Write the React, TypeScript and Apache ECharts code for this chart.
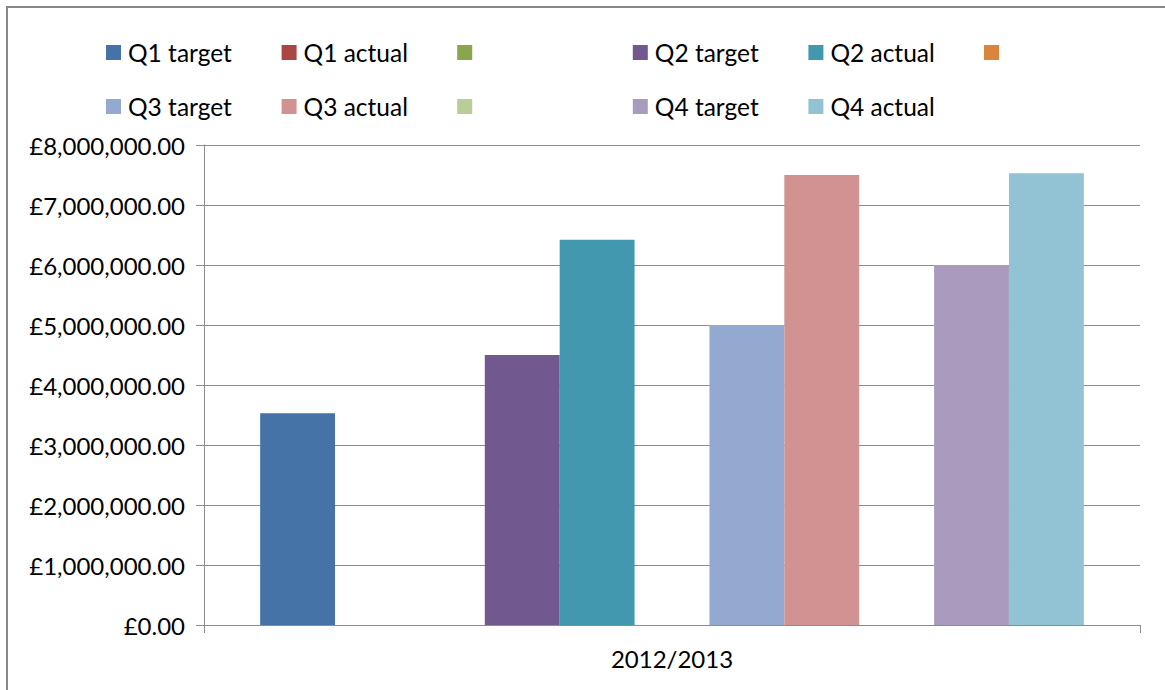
import React, { useEffect, useRef } from "react";
import * as echarts from "echarts";

const categories: string[] = ["2012/2013"];
const seriesNames: string[] = [
  "Q1 target", "Q1 actual", " ",
  "Q2 target", "Q2 actual", "  ",
  "Q3 target", "Q3 actual", "   ",
  "Q4 target", "Q4 actual",
];
const seriesValues: (number | null)[][] = [
  [3530000], [null], [null],
  [4500000], [6420000], [null],
  [5000000], [7500000], [null],
  [6000000], [7530000],
];
const seriesColors: string[] = [
  "#4572A7", "#AA4643", "#89A54E",
  "#71588F", "#4198AF", "#DB843D",
  "#93A9CF", "#D19392", "#B9CD96",
  "#A99BBD", "#92C3D4",
];
const yMin = 0;
const yMax = 8000000;
const yInterval = 1000000;

const FONT = "Lato, 'Liberation Sans', sans-serif";

function formatPounds(v: number): string {
  const s = v.toFixed(2);
  const [i, d] = s.split(".");
  return "£" + i.replace(/\B(?=(\d{3})+(?!\d))/g, ",") + "." + d;
}

export default function App() {
  const ref = useRef<HTMLDivElement>(null);
  useEffect(() => {
    if (!ref.current) return;
    const chart = echarts.init(ref.current, undefined, { renderer: "svg" });
    const perRow = 6;
    const legendLeft0 = 106;
    const legendStep = 175.6;
    const legendRowTops = [40, 94];
    const legends = seriesNames.map((name, i) => ({
      data: [name],
      left: legendLeft0 + (i % perRow) * legendStep,
      top: legendRowTops[Math.floor(i / perRow)],
      padding: 0,
      itemWidth: 15,
      itemHeight: 15,
      itemGap: 0,
      selectedMode: false,
      icon: "rect",
      textStyle: { fontFamily: FONT, fontSize: 24.5, color: "#000", lineHeight: 24, padding: [0, 0, 0, 2] },
    }));
    chart.setOption({
      animation: false,
      color: seriesColors,
      legend: legends,
      graphic: [
        {
          type: "rect",
          shape: { x: 7, y: 7, width: 1200, height: 700 },
          style: { fill: "none", stroke: "#888888", lineWidth: 2 },
          silent: true,
        },
      ],
      grid: { left: 204, right: 25, top: 145, bottom: 65, containLabel: false },
      xAxis: {
        type: "category",
        data: categories,
        axisLine: { show: true, lineStyle: { color: "#8c8c8c", width: 1 } },
        axisTick: { show: true, length: 8, lineStyle: { color: "#8c8c8c" } },
        axisLabel: {
          fontFamily: FONT,
          fontSize: 24,
          color: "#000",
          margin: 21,
        },
        splitLine: { show: false },
      },
      yAxis: {
        type: "value",
        min: yMin,
        max: yMax,
        interval: yInterval,
        axisLine: { show: true, lineStyle: { color: "#8c8c8c", width: 1 } },
        axisTick: { show: true, length: 8, lineStyle: { color: "#8c8c8c" } },
        axisLabel: {
          fontFamily: FONT,
          fontSize: 24,
          color: "#000",
          margin: 19,
          formatter: (v: number) => formatPounds(v),
        },
        splitLine: { show: true, lineStyle: { color: "#8c8c8c", width: 1 } },
      },
      series: seriesNames.map((name, i) => ({
        name,
        type: "bar",
        data: seriesValues[i],
        barGap: "0%",
        barCategoryGap: "12%",
        itemStyle: { color: seriesColors[i] },
      })),
    });
    return () => chart.dispose();
  }, []);
  return (
    <div
      ref={ref}
      style={{ position: "absolute", left: 0, top: 0, width: 1165, height: 690, background: "#fff" }}
    />
  );
}
